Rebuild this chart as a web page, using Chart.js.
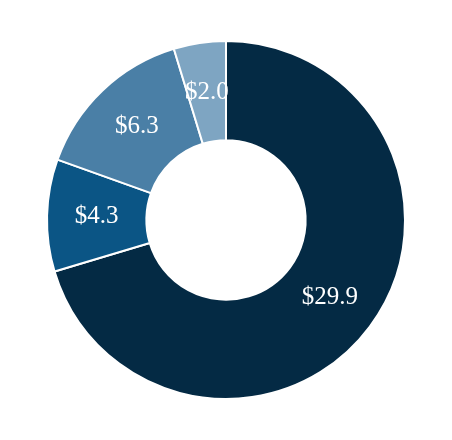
<!DOCTYPE html>
<html>
<head>
<meta charset="utf-8">
<script src="https://cdn.jsdelivr.net/npm/chart.js@4"></script>
<style>
  html, body { margin: 0; padding: 0; background: #fff; }
  #wrap { width: 452px; height: 440px; }
</style>
</head>
<body>
<div id="wrap"><canvas id="chart" width="452" height="440"></canvas></div>
<script>
const categories = ['A', 'B', 'C', 'D'];
const values = [29.9, 4.3, 6.3, 2.0];
const colors = ['#042a44', '#0b5585', '#4a7fa6', '#7ea5c2'];

// draw the $ labels in the middle of each slice
const sliceLabels = {
  id: 'sliceLabels',
  afterDatasetsDraw(chart) {
    const ctx = chart.ctx;
    const meta = chart.getDatasetMeta(0);
    ctx.save();
    ctx.fillStyle = '#ffffff';
    ctx.font = '25px "Liberation Serif"';
    ctx.textAlign = 'center';
    ctx.textBaseline = 'middle';
    meta.data.forEach((arc, i) => {
      const p = arc.tooltipPosition();
      ctx.fillText('$' + values[i].toFixed(1), p.x, p.y);
    });
    ctx.restore();
  }
};

new Chart(document.getElementById('chart'), {
  type: 'doughnut',
  data: {
    labels: categories,
    datasets: [{
      data: values,
      backgroundColor: colors,
      borderColor: '#ffffff',
      borderWidth: 2
    }]
  },
  options: {
    responsive: false,
    animation: false,
    cutout: '44.5%',
    layout: { padding: { top: 40, bottom: 40, left: 0, right: 0 } },
    plugins: {
      legend: { display: false },
      tooltip: { enabled: false }
    }
  },
  plugins: [sliceLabels]
});
</script>
</body>
</html>
